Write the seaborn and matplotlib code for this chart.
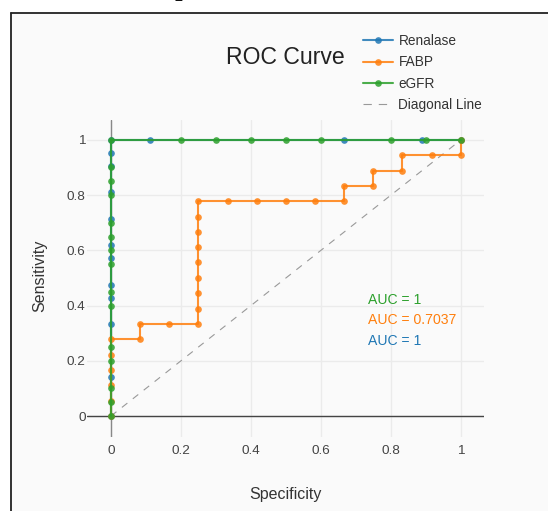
import numpy as np
import pandas as pd
import matplotlib
matplotlib.use("Agg")
import matplotlib.pyplot as plt
from matplotlib.lines import Line2D
import seaborn as sns

# Datos de las curvas ROC
models = ["Renalase", "FABP", "eGFR"]
colors = ["#1f77b4", "#ff7f0e", "#2ca02c"]
auc_labels = ["AUC = 1", "AUC = 0.7037", "AUC = 1"]

ren_fpr = [0, 0, 0, 0, 0, 0, 0, 0, 0, 0, 0, 0, 0.111, 0.667, 0.889, 1.0]
ren_tpr = [0, 0.143, 0.333, 0.429, 0.476, 0.571, 0.619, 0.714, 0.810,
           0.905, 0.952, 1, 1, 1, 1, 1]

fabp_fpr = [0, 0, 0, 0, 0, 0, 0.083, 0.083, 0.167, 0.25, 0.25, 0.25, 0.25,
            0.25, 0.25, 0.25, 0.25, 0.25, 0.333, 0.417, 0.5, 0.583, 0.667,
            0.667, 0.75, 0.75, 0.833, 0.833, 0.917, 1.0, 1.0]
fabp_tpr = [0, 0.056, 0.111, 0.167, 0.222, 0.278, 0.278, 0.333, 0.333, 0.333,
            0.389, 0.444, 0.5, 0.556, 0.611, 0.667, 0.722, 0.778, 0.778,
            0.778, 0.778, 0.778, 0.778, 0.833, 0.833, 0.889, 0.889, 0.944,
            0.944, 0.944, 1.0]

egfr_fpr = [0, 0, 0, 0, 0, 0, 0, 0, 0, 0, 0, 0, 0, 0, 0,
            0.2, 0.3, 0.4, 0.5, 0.6, 0.8, 0.9, 1.0]
egfr_tpr = [0, 0.05, 0.10, 0.20, 0.25, 0.40, 0.45, 0.55, 0.60, 0.65, 0.70,
            0.80, 0.85, 0.90, 1.0, 1, 1, 1, 1, 1, 1, 1, 1]

ticks = [0, 0.2, 0.4, 0.6, 0.8, 1]
tick_labels = ["0", "0.2", "0.4", "0.6", "0.8", "1"]

df = pd.concat([
    pd.DataFrame({"fpr": ren_fpr, "tpr": ren_tpr, "model": "Renalase"}),
    pd.DataFrame({"fpr": fabp_fpr, "tpr": fabp_tpr, "model": "FABP"}),
    pd.DataFrame({"fpr": egfr_fpr, "tpr": egfr_tpr, "model": "eGFR"}),
], ignore_index=True)

sns.set_style("white")
plt.rcParams["font.family"] = ["Liberation Sans", "DejaVu Sans"]
plt.rcParams["lines.scale_dashes"] = False

W, H = 548, 511
fig = plt.figure(figsize=(W / 100, H / 100), dpi=100, facecolor="white")
bg = "#fafafa"

# Marco del documento (fondo gris claro, borde arriba e izquierda)
fig.patches.append(plt.Rectangle((10.5 / W, 0), 1, 1 - 13 / H, transform=fig.transFigure,
                                 facecolor=bg, edgecolor="none", zorder=-5))
fig.lines.append(Line2D([10.5 / W, 10.5 / W], [0, 1 - 13 / H], transform=fig.transFigure,
                        color="#222222", lw=1.3, zorder=-4))
fig.lines.append(Line2D([10.5 / W, 1], [1 - 13 / H, 1 - 13 / H], transform=fig.transFigure,
                        color="#222222", lw=1.3, zorder=-4))
fig.text(182 / W, 1 + 3 / H, "p", family="DejaVu Serif", weight="bold", fontsize=15,
         ha="center", va="baseline", color="#111111")

ax = fig.add_axes([87 / W, 1 - 437 / H, (484 - 87) / W, (437 - 120) / H])
ax.set_facecolor(bg)
for s in ax.spines.values():
    s.set_visible(False)

ax.set_xlim(-0.0686, 1.066)
ax.set_ylim(-0.076, 1.072)
ax.set_xticks(ticks)
ax.set_xticklabels(tick_labels)
ax.set_yticks(ticks)
ax.set_yticklabels(tick_labels)
ax.tick_params(length=0, labelsize=9.7, labelcolor="#444444")
ax.tick_params(axis="x", pad=6)
ax.tick_params(axis="y", pad=1)
ax.grid(True, color="#ebebeb", lw=1)
ax.set_axisbelow(True)
ax.axhline(0, color="#444444", lw=1, zorder=1)
ax.axvline(0, color="#888888", lw=1, zorder=1)

sns.lineplot(data=df, x="fpr", y="tpr", hue="model", hue_order=models,
             palette=colors, sort=False, estimator=None, marker="o",
             markersize=4.8, markeredgewidth=0, lw=1.5, alpha=0.85,
             legend=False, ax=ax, zorder=3)
ax.plot([0, 1], [0, 1], color="#999999", lw=0.8, dashes=(5, 5), zorder=2)
ax.set_xlabel("")
ax.set_ylabel("")

# Textos AUC
auc_y = {"eGFR": 0.42, "FABP": 0.348, "Renalase": 0.272}
for m, col, lab in zip(models, colors, auc_labels):
    ax.text(0.734, auc_y[m], lab, color=col, fontsize=10.1, va="center", ha="left")

fig.text(285 / W, 1 - 58 / H, "ROC Curve", ha="center", va="center",
         fontsize=16.6, color="#222222")
fig.text(285 / W, 1 - 494 / H, "Specificity", ha="center", va="center",
         fontsize=11.5, color="#333333")
fig.text(40 / W, 1 - 276 / H, "Sensitivity", ha="center", va="center",
         rotation=90, fontsize=11.5, color="#333333")

handles = [Line2D([], [], color=c, lw=1.5, marker="o", markersize=4.8,
                  markeredgewidth=0, alpha=0.85) for c in colors]
handles.append(Line2D([], [], color="#999999", lw=0.8, dashes=(6, 5)))
fig.legend(handles, models + ["Diagonal Line"], loc="upper left",
           bbox_to_anchor=(363 / W, 1 - 34 / H), frameon=False, borderpad=0,
           borderaxespad=0, fontsize=9.8, handlelength=2.2, handletextpad=0.4,
           labelspacing=0.54, labelcolor="#333333")

fig.savefig("out.png", dpi=100, facecolor="white")
